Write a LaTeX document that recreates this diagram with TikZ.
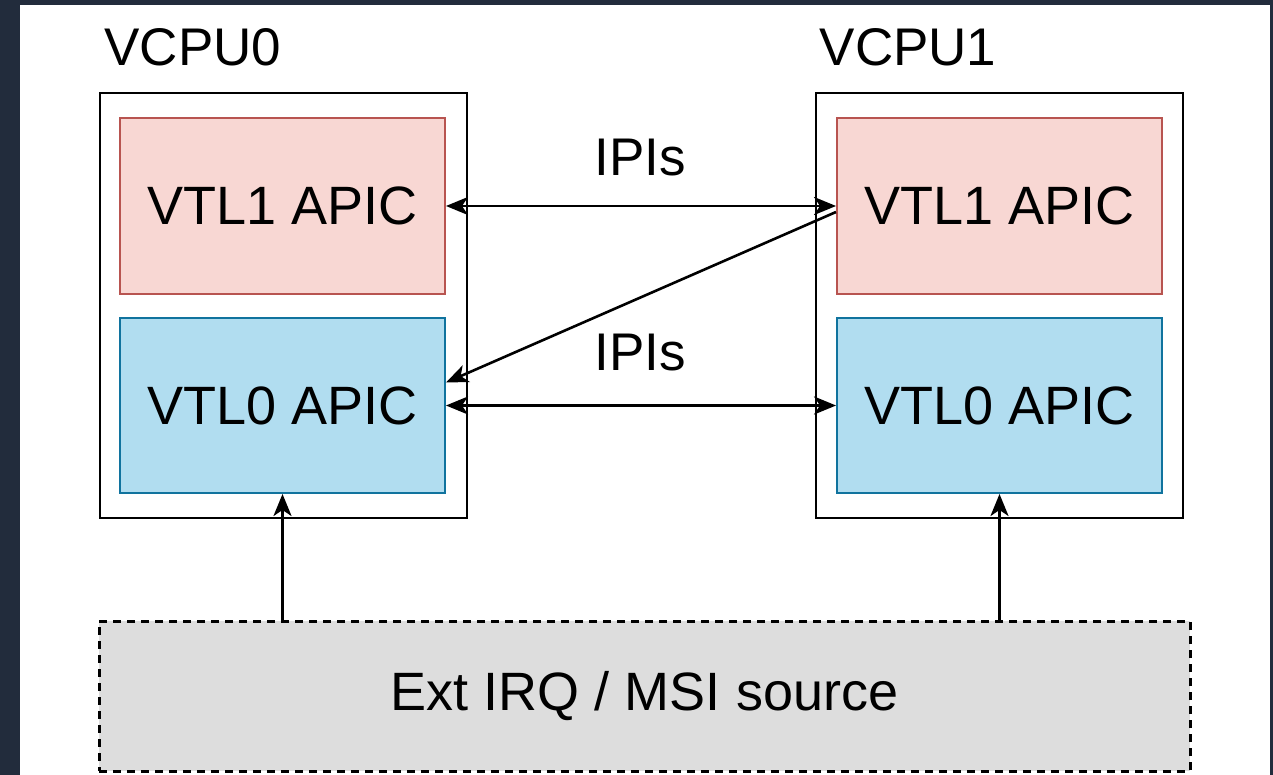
\documentclass[tikz,border=0pt]{standalone}
\usepackage{fontspec}
\setmainfont{Liberation Sans}
\usetikzlibrary{arrows.meta,calc}
\definecolor{bgdark}{HTML}{222C3C}
\definecolor{pinkfill}{HTML}{F8D7D3}
\definecolor{pinkline}{HTML}{B85450}
\definecolor{bluefill}{HTML}{B1DDF0}
\definecolor{blueline}{HTML}{10739E}
\definecolor{greyfill}{HTML}{DDDDDD}
\tikzset{
  cpubox/.style={draw=black, line width=2.4pt, fill=white, minimum width=367pt, minimum height=425pt, inner sep=0pt},
  vtlone/.style={draw=pinkline, line width=2pt, fill=pinkfill, minimum width=325pt, minimum height=176pt, inner sep=0pt, font=\fontsize{54pt}{60pt}\selectfont},
  vtlzero/.style={draw=blueline, line width=2pt, fill=bluefill, minimum width=325pt, minimum height=175pt, inner sep=0pt, font=\fontsize{54pt}{60pt}\selectfont},
  extbox/.style={draw=black, line width=3pt, dash pattern=on 8pt off 6pt, fill=greyfill, minimum width=1091pt, minimum height=150pt, inner sep=0pt, font=\fontsize{54pt}{60pt}\selectfont},
  lbl/.style={inner sep=0pt, font=\fontsize{53pt}{60pt}\selectfont},
  conn/.style={line width=2.6pt, draw=black},
  oneway/.style={-{Stealth[length=22pt,width=18pt,inset=6pt]}},
  twoway/.style={{Stealth[length=22pt,width=18pt,inset=6pt]}-{Stealth[length=22pt,width=18pt,inset=6pt]}},
}
\begin{document}
\begin{tikzpicture}[x=1pt,y=-1pt]
\fill[bgdark] (0,0) rectangle (1273,775);
\fill[white] (20,5) rectangle (1270,775);
\useasboundingbox (0,0) rectangle (1273,775);

\node[cpubox] (c0) at (283.5,305.5) {};
\node[cpubox] (c1) at (999.5,305.5) {};
\node[vtlone] (l1) at (282.5,206) {VTL1 APIC};
\node[vtlone] (r1) at (999.5,206) {VTL1 APIC};
\node[vtlzero] (l0) at (282.5,405.5) {VTL0 APIC};
\node[vtlzero] (r0) at (999.5,405.5) {VTL0 APIC};
\node[extbox] (ext) at (644.5,696) {Ext IRQ / MSI source};

\node[lbl] (t0) at (193,47) {VCPU0};
\node[lbl] (t1) at (908,47) {VCPU1};
\node[lbl] (ipa) at (640,158) {IPIs};
\node[lbl] (ipb) at (640,353) {IPIs};

\draw[conn,twoway] (l1.east) -- (r1.west);
\draw[conn,twoway] (l0.east) -- (r0.west);
\draw[conn,oneway] ([yshift=-6pt]r1.west) -- ([yshift=23pt]l0.east);
\draw[conn,oneway] (ext.north -| l0.south) -- (l0.south);
\draw[conn,oneway] (ext.north -| r0.south) -- (r0.south);
\end{tikzpicture}
\end{document}
